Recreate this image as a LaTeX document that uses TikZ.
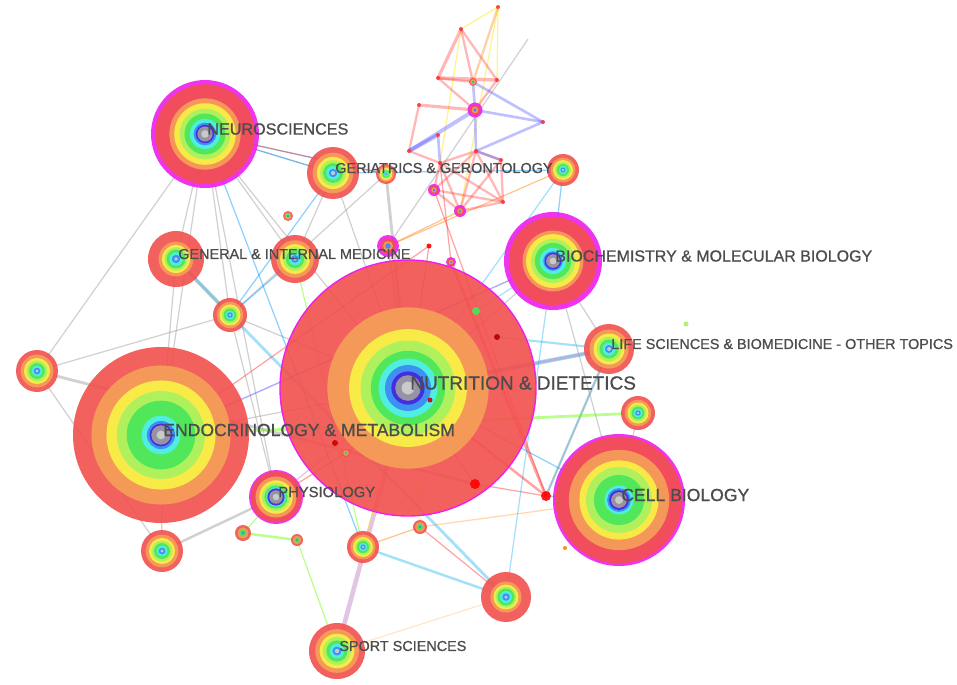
\documentclass[tikz,border=0pt]{standalone}
\usepackage{fontspec}
\setmainfont{Liberation Sans}
\newfontfamily\lblfont[FakeBold=0.8]{Liberation Sans}

\definecolor{cRed}{RGB}{242,80,78}
\definecolor{cOrange}{RGB}{246,160,88}
\definecolor{cYellow}{RGB}{249,243,70}
\definecolor{cLime}{RGB}{168,242,96}
\definecolor{cGreen}{RGB}{70,230,90}
\definecolor{cCyan}{RGB}{80,238,240}
\definecolor{cBlue}{RGB}{60,136,246}
\definecolor{cViolet}{RGB}{70,36,222}
\definecolor{cGrey}{RGB}{158,158,158}
\definecolor{cGreyL}{RGB}{208,208,208}
\definecolor{cMag}{RGB}{238,30,238}
\definecolor{lblgrey}{RGB}{76,76,76}

% ring profiles: colour / fraction of the outer radius
\def\profNut{cRed/1,cOrange/.63,cYellow/.46,cLime/.37,cGreen/.29,cCyan/.23,cBlue/.18,cViolet/.13,cGrey/.10,cGreyL/.05}
\def\profEndo{cRed/1,cOrange/.79,cYellow/.62,cLime/.5,cGreen/.39,cCyan/.22,cBlue/.16,cViolet/.13,cGrey/.11,cGreyL/.05}
\def\profCell{cMag/1,cRed/.96,cOrange/.76,cYellow/.6,cLime/.5,cGreen/.38,cCyan/.22,cBlue/.18,cViolet/.15,cGrey/.12,cGreyL/.06}
\def\profNeuro{cMag/1,cRed/.92,cOrange/.66,cYellow/.57,cLime/.47,cGreen/.38,cCyan/.28,cBlue/.21,cViolet/.17,cGrey/.14,cGreyL/.07}
\def\profBio{cMag/1,cRed/.9,cOrange/.62,cYellow/.55,cLime/.45,cGreen/.37,cCyan/.27,cBlue/.2,cViolet/.17,cGrey/.14,cGreyL/.07}
\def\profPhys{cMag/1,cRed/.94,cOrange/.76,cYellow/.62,cLime/.52,cGreen/.43,cCyan/.36,cViolet/.32,cGrey/.25,cGreyL/.12}
\def\profMid{cRed/1,cOrange/.78,cYellow/.62,cLime/.5,cGreen/.38,cCyan/.26,cBlue/.16,cGreyL/.08}
\def\profRed{cRed/1,cOrange/.62,cYellow/.5,cLime/.42,cGreen/.34,cCyan/.24,cBlue/.15,cGreyL/.07}
\def\profTiny{cRed/1,cOrange/.7,cGreen/.45,cBlue/.2}
\def\profTinyMag{cMag/1,cRed/.7,cOrange/.45,cBlue/.25}

% concentric rings round a named point
\newcommand{\rings}[3]{%
  \foreach \ringcol/\ringfrac in #3 {
    \fill[\ringcol, fill opacity=0.9] (#1) circle[radius=#2*\ringfrac*0.02cm];
  }%
}

\tikzset{
  link/.style={line width=0.7pt, draw opacity=0.45},
  lgrey/.style={link, gray!80},
  lcyan/.style={link, cyan!80},
  lblue/.style={link, blue!40!cyan},
  lgreen/.style={link, green!60!yellow},
  lred/.style={link, red!80},
  lorange/.style={link, orange},
  lyellow/.style={link, yellow!90!orange},
  lpurple/.style={link, violet!50},
  lbl/.style={anchor=west, inner sep=0pt, xshift=0.04cm, yshift=0.1cm, text=lblgrey},
  dot/.style={fill=#1, fill opacity=0.9}
}

\begin{document}
\begin{tikzpicture}[x=0.02cm,y=-0.02cm]
\fill[white] (0,0) rectangle (957,684);
\useasboundingbox (0,0) rectangle (957,684);

% centres
\coordinate (nut) at (408,388);
\coordinate (endo) at (161,435);
\coordinate (cell) at (619,500);
\coordinate (neuro) at (205,134);
\coordinate (biochem) at (553,261);
\coordinate (life) at (609,349);
\coordinate (geri) at (333,173);
\coordinate (gim) at (176,259);
\coordinate (phys) at (276,497);
\coordinate (sport) at (337,651);
\coordinate (n9) at (295,259);
\coordinate (n10) at (230,315);
\coordinate (n11) at (37,371);
\coordinate (n13) at (162,551);
\coordinate (n14) at (243,533);
\coordinate (n15) at (297,540);
\coordinate (n16) at (363,547);
\coordinate (n17) at (420,527);
\coordinate (n18) at (506,597);
\coordinate (n20) at (638,413);
\coordinate (n21) at (563,170);
\coordinate (n22) at (386,174);
\coordinate (n23) at (288,216);
\coordinate (n24) at (388,246);
\coordinate (n25) at (434,190);
\coordinate (n26) at (460,211);
\coordinate (t1) at (498,7);
\coordinate (t2) at (461,29);
\coordinate (t3) at (438,78);
\coordinate (t4) at (497,80);
\coordinate (t5) at (473,82);
\coordinate (t6) at (475,110);
\coordinate (t7) at (419,105);
\coordinate (t8) at (543,122);
\coordinate (t9) at (438,135);
\coordinate (t10) at (409,151);
\coordinate (t11) at (476,151);
\coordinate (t12) at (501,160);
\coordinate (t13) at (440,163);
\coordinate (t14) at (503,202);
\coordinate (t15) at (528,39);
\coordinate (d1) at (429,246);
\coordinate (d2) at (451,262);
\coordinate (d3) at (476,311);
\coordinate (d4) at (497,337);
\coordinate (d5) at (475,484);
\coordinate (d6) at (546,496);
\coordinate (d7) at (346,453);
\coordinate (d8) at (335,443);
\coordinate (d9) at (430,400);
\coordinate (d10) at (686,324);
\coordinate (d11) at (565,548);

% links
\path[lgrey]
  (n11) edge (neuro) (n11) edge (n10) (n11) edge[line width=1.6pt] (d5)
  (n11) edge (n13) (neuro) edge (n10) (neuro) edge (n9) (neuro) edge (phys)
  (neuro) edge (nut) (neuro) edge (endo) (neuro) edge (gim) (neuro) edge (geri)
  (gim) edge[line width=2pt] (n10) (n10) edge (phys) (n10) edge (nut)
  (geri) edge (nut) (geri) edge (n9) (n22) edge[line width=1.6pt] (nut)
  (n22) edge (n10) (t15) edge (n24) (cell) edge (biochem) (life) edge (biochem)
  (n13) edge (endo) (n13) edge[line width=1.4pt] (phys) (endo) edge (nut)
  (gim) edge (endo) (biochem) edge (nut) (cell) edge (n20)
  (life) edge[line width=1.4pt] (d6);
\path[lblue]
  (neuro) edge (n16) (neuro) edge (geri) (neuro) edge (n22) (n21) edge (geri)
  (n9) edge (n10) (cell) edge (nut) (n21) edge (biochem) (geri) edge (n10)
  (d6) edge (cell);
\path[lcyan]
  (life) edge[line width=2.4pt] (nut) (life) edge[line width=1.2pt] (d4)
  (n18) edge[line width=1.4pt] (n16) (n18) edge[line width=1.6pt] (gim)
  (n18) edge (biochem) (n21) edge (nut) (d6) edge (life) (biochem) edge (d3);
\path[lgreen]
  (n20) edge[line width=1.6pt] (endo) (n14) edge[line width=1.4pt] (n15)
  (n15) edge (sport) (n14) edge (phys) (n9) edge (n16);
\path[lpurple]
  (sport) edge[line width=2.6pt] (nut) (endo) edge[blue!70, line width=0.8pt] (biochem)
  (life) edge[line width=1.6pt] (nut) (phys) edge (nut);
\path[lorange]
  (n16) edge (n17) (n24) edge (n26) (n21) edge (n24)
  (sport) edge[draw opacity=0.2] (n18) (n17) edge[draw opacity=0.3] (cell);
\path[lred]
  (nut) edge[line width=1.4pt] (d6) (nut) edge (d5) (n24) edge (nut)
  (d1) edge (nut) (d2) edge[line width=1.6pt] (d6) (n17) edge (n18)
  (n25) edge (d6) (d5) edge (d6) (n22) edge (neuro) (t13) edge (d2)
  (d1) edge (endo) (d9) edge (phys);
\path[lyellow]
  (n17) edge (nut) (n16) edge (nut) (t1) edge (t2) (t1) edge (t4)
  (t1) edge (n26) (t2) edge (t13);
% small cluster at the top
\path[lred, line width=1.3pt, draw opacity=0.35]
  (t2) edge[line width=1.8pt] (t3) (t2) edge (t4) (t3) edge[line width=2pt] (t4)
  (t2) edge (t5) (t3) edge (t5) (t1) edge[orange] (t5)
  (t7) edge[line width=1.8pt] (t6) (t7) edge (t10) (t3) edge (t6) (t4) edge (t6)
  (t13) edge (t11) (t13) edge (n25) (t13) edge (n26) (t11) edge (t12)
  (t11) edge (n26) (t12) edge (t14) (t12) edge (n26) (t13) edge (t14)
  (n25) edge (t14) (t11) edge (n25) (n25) edge (n26) (t14) edge (n26)
  (t11) edge (t14) (t10) edge (t13);
\path[link, blue!70, line width=1.5pt, draw opacity=0.35]
  (t6) edge (t8) (t5) edge (t8) (t6) edge[line width=2.2pt] (t10)
  (t10) edge[line width=2.2pt] (t9) (t9) edge (t13) (t8) edge (t11)
  (t11) edge (t12) (t6) edge (t11) (t5) edge (t6);

% nodes
\rings{nut}{128}{\profNut}
\draw[cMag, line width=0.8pt] (nut) circle[radius=128*0.02cm];
\rings{endo}{88}{\profEndo}
\rings{cell}{66}{\profCell}
\rings{neuro}{54}{\profNeuro}
\rings{biochem}{49}{\profBio}
\rings{phys}{27}{\profPhys}
\rings{life}{25}{\profMid}
\rings{geri}{26}{\profMid}
\rings{gim}{28}{\profRed}
\rings{sport}{28}{\profMid}
\rings{n9}{24}{\profMid}
\rings{n10}{17}{\profMid}
\rings{n11}{21}{\profMid}
\rings{n13}{21}{\profMid}
\rings{n16}{16}{\profMid}
\rings{n18}{25}{\profRed}
\rings{n20}{17}{\profMid}
\rings{n21}{16}{\profMid}
\rings{n22}{10}{\profMid}
\rings{n14}{8}{\profTiny}
\rings{n15}{6}{\profTiny}
\rings{n17}{7}{\profTiny}
\rings{n23}{5}{\profTiny}
\rings{n24}{11}{\profTinyMag}
\rings{n25}{6}{\profTinyMag}
\rings{n26}{6}{\profTinyMag}
\rings{t6}{7.5}{\profTinyMag}
\rings{t5}{4}{\profTiny}
\foreach \pt in {t1,t2,t3,t4,t7,t8,t9,t10,t11,t12,t13,t14}
  \fill[dot=red!80] (\pt) circle[radius=2*0.02cm];
\fill[dot=cGreen] (d3) circle[radius=4*0.02cm];
\rings{d2}{5}{\profTinyMag}
\fill[dot=red!70!black] (d4) circle[radius=3*0.02cm];
\fill[dot=red] (d5) circle[radius=5*0.02cm];
\fill[dot=red] (d6) circle[radius=5*0.02cm];
\rings{d7}{4}{\profTiny}
\fill[dot=red!80!black] (d8) circle[radius=3*0.02cm];
\fill[dot=red!80!black] (d9) circle[radius=2.5*0.02cm];
\fill[dot=red] (d1) circle[radius=2.5*0.02cm];
\fill[dot=cLime] (d10) circle[radius=2.5*0.02cm];
\fill[dot=orange] (d11) circle[radius=2*0.02cm];

% labels
\node[lbl, font=\lblfont\fontsize{10.8}{12}\selectfont] (nutlbl) at (nut) {NUTRITION \& DIETETICS};
\node[lbl, font=\lblfont\fontsize{10}{12}\selectfont] (endolbl) at (endo) {ENDOCRINOLOGY \& METABOLISM};
\node[lbl, font=\lblfont\fontsize{10}{12}\selectfont] (celllbl) at (cell) {CELL BIOLOGY};
\node[lbl, font=\lblfont\fontsize{9.2}{11}\selectfont] (neurolbl) at (neuro) {NEUROSCIENCES};
\node[lbl, font=\lblfont\fontsize{9.1}{11}\selectfont] (biochemlbl) at (biochem) {BIOCHEMISTRY \& MOLECULAR BIOLOGY};
\node[lbl, font=\lblfont\fontsize{8.2}{10}\selectfont] (lifelbl) at (life) {LIFE SCIENCES \& BIOMEDICINE - OTHER TOPICS};
\node[lbl, font=\lblfont\fontsize{8.2}{10}\selectfont] (gimlbl) at (gim) {GENERAL \& INTERNAL MEDICINE};
\node[lbl, font=\lblfont\fontsize{8.2}{10}\selectfont] (gerilbl) at (geri) {GERIATRICS \& GERONTOLOGY};
\node[lbl, font=\lblfont\fontsize{8.4}{10}\selectfont] (physlbl) at (phys) {PHYSIOLOGY};
\node[lbl, font=\lblfont\fontsize{8.2}{10}\selectfont] (sportlbl) at (sport) {SPORT SCIENCES};
\end{tikzpicture}
\end{document}
